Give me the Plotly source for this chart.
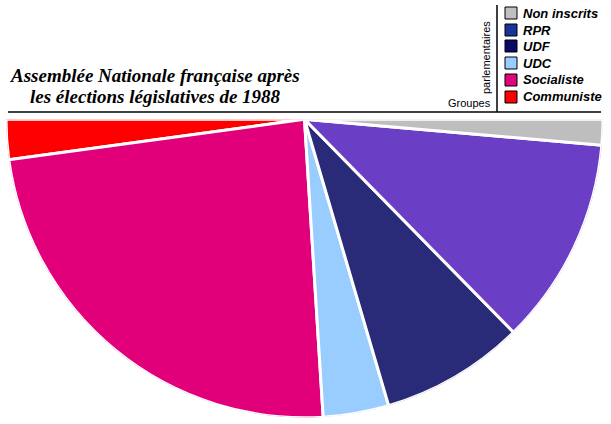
import plotly.graph_objects as go

groups = ["Communiste", "Socialiste", "UDC", "UDF", "RPR", "Non inscrits"]
seats = [25, 275, 41, 90, 130, 16]
slice_colors = ["#ff0000", "#e2007a", "#99ccff", "#292a78", "#6a3fc6", "#bebebe"]
legend_colors = ["#ff0000", "#e0077a", "#99ccff", "#0a0a66", "#1a3399", "#c0c0c0"]
title_lines = ["Assemblée Nationale française après", "les élections législatives de 1988"]

total = sum(seats)
spans = [s / total * 180.0 for s in seats]
centers = []
acc = 180.0
for sp in spans:
    centers.append(acc + sp / 2)
    acc += sp

W, H = 611, 424
fig = go.Figure()
fig.add_trace(go.Barpolar(
    r=[1] * len(seats), theta=centers, width=spans,
    marker=dict(color=slice_colors, line=dict(color="white", width=3)),
    showlegend=False, hoverinfo="skip",
))

fig.update_layout(
    width=W, height=H, margin=dict(l=0, r=0, t=0, b=0),
    paper_bgcolor="white", plot_bgcolor="white", showlegend=False,
    polar=dict(
        domain=dict(x=[6 / W, 603 / W], y=[(H - 418) / H, (H - 119) / H]),
        sector=[180, 360], bgcolor="white", hole=0,
        angularaxis=dict(visible=False, direction="counterclockwise", rotation=0),
        radialaxis=dict(visible=False, range=[0, 1]),
    ),
)

def px(x):
    return x / W

def py(y):
    return 1 - y / H

shapes = [
    dict(type="line", xref="paper", yref="paper", x0=px(8), x1=px(601), y0=py(112), y1=py(112),
         line=dict(color="black", width=1.5)),
    dict(type="line", xref="paper", yref="paper", x0=px(497), x1=px(497), y0=py(5), y1=py(112),
         line=dict(color="black", width=1.5)),
]
annotations = []
ycent = [13, 30, 46, 63, 80, 97]
for i, (g, c) in enumerate(zip(groups[::-1], legend_colors[::-1])):
    yc = ycent[i]
    shapes.append(dict(type="rect", xref="paper", yref="paper", x0=px(505), x1=px(517),
                       y0=py(yc - 6), y1=py(yc + 6), fillcolor=c, line=dict(color="black", width=1)))
    annotations.append(dict(xref="paper", yref="paper", x=px(521), y=py(yc), text="<b><i>%s</i></b>" % g,
                            showarrow=False, xanchor="left", yanchor="middle",
                            font=dict(family="Liberation Sans, Arial", size=13, color="black")))
annotations.append(dict(xref="paper", yref="paper", x=px(493), y=py(103), text="Groupes", showarrow=False,
                        xanchor="right", yanchor="middle",
                        font=dict(family="Liberation Sans, Arial", size=11, color="black")))
annotations.append(dict(xref="paper", yref="paper", x=px(486), y=py(58), text="parlementaires", showarrow=False,
                        textangle=-90, xanchor="center", yanchor="middle",
                        font=dict(family="Liberation Sans, Arial", size=11, color="black")))
for line, yc in zip(title_lines, [76, 97]):
    annotations.append(dict(xref="paper", yref="paper", x=px(155), y=py(yc), text="<b><i>%s</i></b>" % line,
                            showarrow=False, xanchor="center", yanchor="middle",
                            font=dict(family="Liberation Serif, Times New Roman", size=19, color="black")))

fig.update_layout(shapes=shapes, annotations=annotations)
fig.write_html("out.html", config={"displayModeBar": False},
               post_script="document.body.style.margin='0';document.body.style.overflow='hidden';")
